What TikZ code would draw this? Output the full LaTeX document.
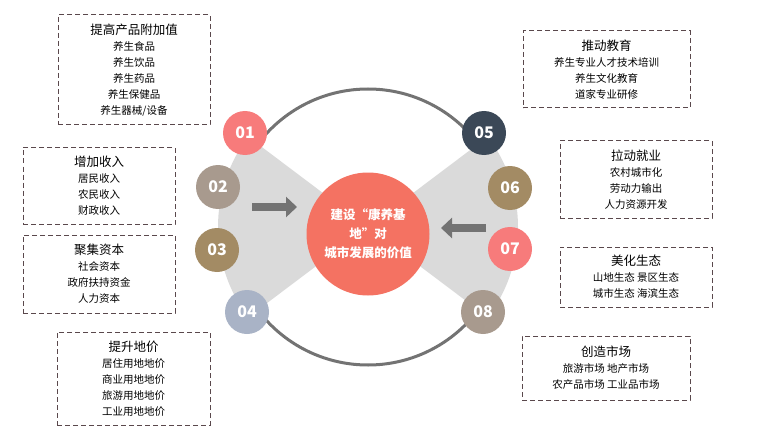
\documentclass[tikz,border=0pt]{standalone}
\usepackage{fontspec}
\setmainfont{Noto Sans CJK SC}
\usetikzlibrary{arrows.meta}
\definecolor{ringgray}{RGB}{115,115,115}
\definecolor{bowgray}{RGB}{218,218,218}
\definecolor{boxline}{RGB}{90,72,76}
\definecolor{coral}{RGB}{244,114,98}
\definecolor{pink}{RGB}{247,123,123}
\definecolor{taupe}{RGB}{168,154,142}
\definecolor{khaki}{RGB}{163,139,100}
\definecolor{steel}{RGB}{169,179,198}
\definecolor{slate}{RGB}{59,72,87}
\begin{document}
\begin{tikzpicture}[x=1pt,y=-1pt]
  \tikzset{
    numdot/.style={circle, minimum size=44pt, inner sep=0pt, text=white, font=\fontsize{16pt}{16pt}\selectfont\bfseries},
    valuebox/.style={draw=boxline, dashed, dash pattern=on 5pt off 3pt, line width=1pt, align=center, inner sep=0pt, font=\fontsize{10.5pt}{16pt}\selectfont},
    bigarrow/.style={draw=ringgray, line width=8pt, -{Triangle[length=11pt,width=20pt]}},
  }
  \useasboundingbox (0,0) rectangle (760,441);

  % ring, then bow tie over its sides
  \draw[ringgray, line width=3pt] (368,227) circle (138);
  \fill[bowgray] (368,227) -- ++(143:150) arc (143:217:150) -- cycle;
  \fill[bowgray] (368,227) -- ++(-37:150) arc (-37:37:150) -- cycle;
  \node[circle, fill=coral, minimum size=123pt, inner sep=0pt, text=white, align=center,
        font=\fontsize{12.5pt}{19pt}\selectfont\bfseries] (core) at (368,234)
        {建设“康养基\\地”对\\城市发展的价值};

  % numbered dots
  \node[numdot, fill=pink]  (n1) at (245,133) {01};
  \node[numdot, fill=taupe] (n2) at (218,187) {02};
  \node[numdot, fill=khaki] (n3) at (217,250) {03};
  \node[numdot, fill=steel] (n4) at (247,312) {04};
  \node[numdot, fill=slate] (n5) at (484,133) {05};
  \node[numdot, fill=khaki] (n6) at (510,188) {06};
  \node[numdot, fill=pink]  (n7) at (510,249) {07};
  \node[numdot, fill=taupe] (n8) at (483,312) {08};

  % arrows towards the core
  \coordinate (arrowLfrom) at (252,207);
  \coordinate (arrowLto) at (297,207);
  \coordinate (arrowRfrom) at (486,228);
  \coordinate (arrowRto) at (441,228);
  \draw[bigarrow] (arrowLfrom) -- (arrowLto);
  \draw[bigarrow] (arrowRfrom) -- (arrowRto);

  % left boxes
  \node[valuebox, minimum width=152pt, minimum height=110pt] (b1) at (134,70)
    {{\fontsize{12.5pt}{17pt}\selectfont 提高产品附加值}\\养生食品\\养生饮品\\养生药品\\养生保健品\\养生器械/设备};
  \node[valuebox, minimum width=152pt, minimum height=77pt] (b2) at (99,186)
    {{\fontsize{12.5pt}{17pt}\selectfont 增加收入}\\居民收入\\农民收入\\财政收入};
  \node[valuebox, minimum width=152pt, minimum height=78pt] (b3) at (99,274)
    {{\fontsize{12.5pt}{17pt}\selectfont 聚集资本}\\社会资本\\政府扶持资金\\人力资本};
  \node[valuebox, minimum width=153pt, minimum height=93pt] (b4) at (133.5,378.5)
    {{\fontsize{12.5pt}{17pt}\selectfont 提升地价}\\居住用地地价\\商业用地地价\\旅游用地地价\\工业用地地价};

  % right boxes
  \node[valuebox, minimum width=167pt, minimum height=77pt] (b5) at (606.5,69.5)
    {{\fontsize{12.5pt}{17pt}\selectfont 推动教育}\\养生专业人才技术培训\\养生文化教育\\道家专业研修};
  \node[valuebox, minimum width=152pt, minimum height=77pt] (b6) at (636,179.5)
    {{\fontsize{12.5pt}{17pt}\selectfont 拉动就业}\\农村城市化\\劳动力输出\\人力资源开发};
  \node[valuebox, minimum width=152pt, minimum height=60pt] (b7) at (636,277)
    {{\fontsize{12.5pt}{17pt}\selectfont 美化生态}\\山地生态\ 景区生态\\城市生态\ 海滨生态};
  \node[valuebox, minimum width=168pt, minimum height=64pt] (b8) at (606,368)
    {{\fontsize{12.5pt}{17pt}\selectfont 创造市场}\\旅游市场\ 地产市场\\农产品市场\ 工业品市场};
\end{tikzpicture}
\end{document}
